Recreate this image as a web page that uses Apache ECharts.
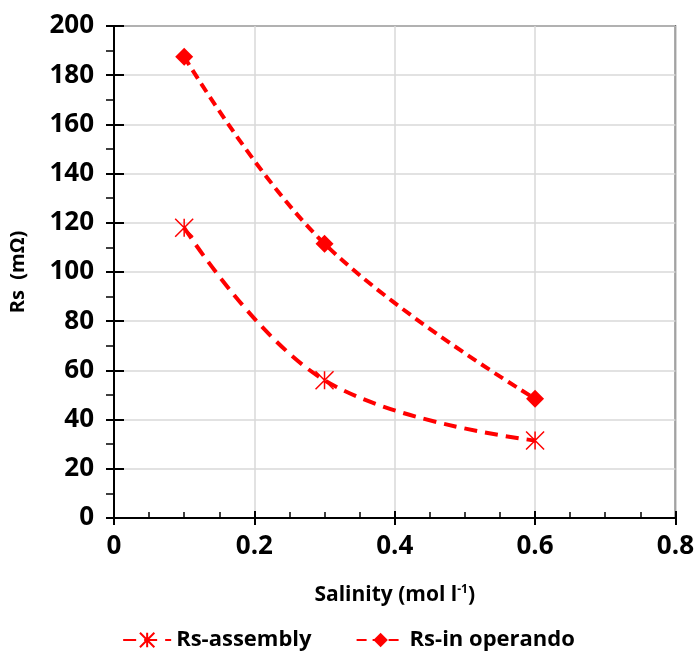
<!DOCTYPE html>
<html>
<head>
<meta charset="utf-8">
<script src="https://cdn.jsdelivr.net/npm/echarts@6/dist/echarts.min.js"></script>
<style>
  html, body { margin: 0; padding: 0; background: #fff; }
  #chart { width: 697px; height: 654px; }
</style>
</head>
<body>
<div id="chart"></div>
<script>
// salinity (mol l-1) and series resistance (mOhm)
const salinity = [0.1, 0.3, 0.6]
const rsAssembly = [118, 56, 31.5]
const rsOperando = [187.5, 111.5, 48.5]
const seriesNames = ['Rs-assembly', 'Rs-in operando']

const FONT = '"Open Sans", "Noto Sans", sans-serif'
const RED = '#ff0000'

const star = 'path://M0,0L10,10M10,0L0,10M5,0L5,10'

const pairs = (ys) => salinity.map((x, i) => [x, ys[i]])

const chart = echarts.init(document.getElementById('chart'))

const option = {
  backgroundColor: '#fff',
  animation: false,
  grid: {
    left: 113, right: 21, top: 26, bottom: 136,
    show: true,
    borderColor: '#000',
    borderWidth: 1.5
  },
  legend: {
    bottom: -2,
    left: 'center',
    itemWidth: 48,
    itemHeight: 18,
    itemGap: 44,
    textStyle: { fontFamily: FONT, fontWeight: 'bold', fontSize: 22, color: '#000' },
    data: seriesNames
  },
  xAxis: [
    {
      type: 'value',
      min: 0, max: 0.8, interval: 0.2,
      name: 'Salinity (mol l{sup|-1})',
      nameLocation: 'middle',
      nameGap: 66,
      nameTextStyle: {
        fontFamily: FONT, fontWeight: 'bold', fontSize: 21, color: '#000',
        rich: { sup: { fontFamily: FONT, fontWeight: 'bold', fontSize: 12, verticalAlign: 'top', padding: [0, 0, 10, 0] } }
      },
      axisLine: { lineStyle: { color: '#000', width: 2 } },
      axisTick: { inside: true, length: 7, lineStyle: { color: '#000', width: 2 } },
      minorTick: { show: true, splitNumber: 4, length: 6, lineStyle: { color: '#000', width: 1.5 } },
      axisLabel: { fontFamily: FONT, fontWeight: 'bold', fontSize: 26, color: '#000', margin: 16 },
      splitLine: { show: true, lineStyle: { color: '#d9d9d9', width: 1.5 } }
    },
    {
      // outer half of the crossing major ticks
      type: 'value',
      position: 'bottom',
      min: 0, max: 0.8, interval: 0.2,
      axisLine: { show: false },
      axisTick: { inside: false, length: 7, lineStyle: { color: '#000', width: 2 } },
      axisLabel: { show: false },
      splitLine: { show: false }
    }
  ],
  yAxis: [
    {
      type: 'value',
      min: 0, max: 200, interval: 20,
      name: 'Rs  (mΩ)',
      nameLocation: 'middle',
      nameGap: 86,
      nameTextStyle: { fontFamily: FONT, fontWeight: 'bold', fontSize: 20, color: '#000' },
      axisLine: { show: true, lineStyle: { color: '#000', width: 2 } },
      axisTick: { show: true, inside: false, length: 8, lineStyle: { color: '#000', width: 2 } },
      minorTick: { show: true, splitNumber: 2, length: 8, lineStyle: { color: '#000', width: 1.5 } },
      axisLabel: { fontFamily: FONT, fontWeight: 'bold', fontSize: 26, color: '#000', margin: 20 },
      splitLine: { show: true, lineStyle: { color: '#d9d9d9', width: 1.5 } }
    },
    {
      // inner half of the crossing major ticks
      type: 'value',
      position: 'left',
      min: 0, max: 200, interval: 20,
      axisLine: { show: false },
      axisTick: { show: true, inside: true, length: 10, lineStyle: { color: '#000', width: 2 } },
      axisLabel: { show: false },
      splitLine: { show: false }
    }
  ],
  series: [
    {
      name: seriesNames[0],
      type: 'line',
      smooth: 0.4,
      data: pairs(rsAssembly),
      symbol: star,
      symbolSize: 18,
      itemStyle: { color: RED, borderColor: RED, borderWidth: 1.5 },
      lineStyle: { color: RED, width: 4, type: [13, 8] },
      z: 3
    },
    {
      name: seriesNames[1],
      type: 'line',
      smooth: 0.4,
      data: pairs(rsOperando),
      symbol: 'diamond',
      symbolSize: 18,
      itemStyle: { color: RED },
      lineStyle: { color: RED, width: 4, type: [10, 6] },
      z: 3
    }
  ]
}

chart.setOption(option)
</script>
</body>
</html>
